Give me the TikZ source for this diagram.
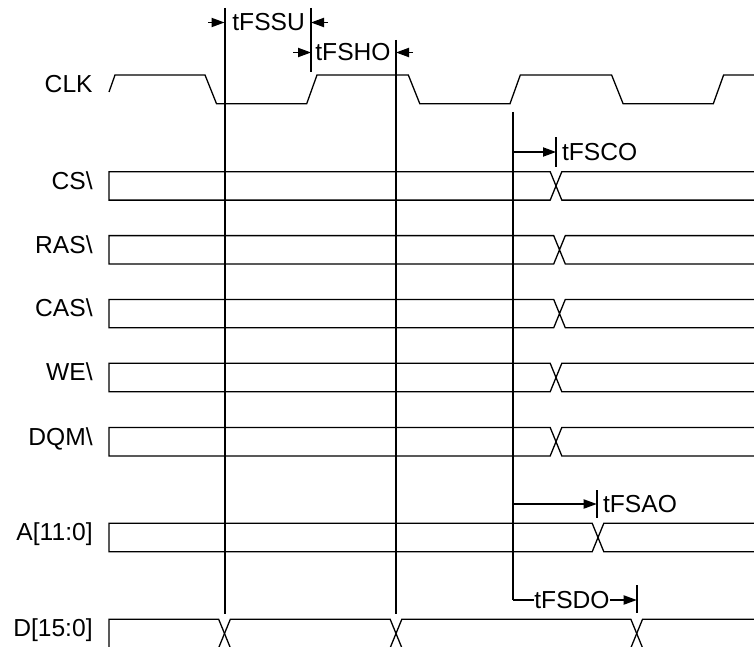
\documentclass[tikz,border=0pt]{standalone}
\usepackage{fontspec}
\setmainfont{Liberation Sans}
\usetikzlibrary{arrows.meta, positioning}
\tikzset{
x=0.5pt, y=-0.5pt, % one unit is one pixel of the sketch, y runs downwards
>={Triangle[length=6.5pt,width=4.6pt]}, % filled arrow heads
sig/.style={line width=0.65pt}, % waveforms and timing arrows
ref/.style={line width=1pt}, % reference lines and ticks
lbl/.style={inner sep=0pt, anchor=base east, font=\fontsize{12.3}{14}\selectfont}, % signal names
tim/.style={inner sep=0pt, anchor=west, font=\fontsize{12.3}{14}\selectfont}, % timing names
}
\newcommand{\hw}{5.8} % half width of a bus crossing
\newcommand{\bh}{28.4} % height of a bus
% a bus from x=109 to the right edge with one crossing: #1 top, #2 crossing
\newcommand{\busline}[2]{%
  \draw[sig] (756,#1) -- (#2+\hw,#1) -- (#2-\hw,#1+\bh) -- (109,#1+\bh) -- (109,#1)
    -- (#2-\hw,#1) -- (#2+\hw,#1+\bh) -- (756,#1+\bh);}

\begin{document}
\begin{tikzpicture}
    \useasboundingbox (0,0) rectangle (754,647);

    % signal names
    \node[lbl] (clk) at (93,92) {CLK};
    \node[lbl] (cs) at (93,189.2) {CS\textbackslash};
    \node[lbl] (ras) at (93,253.1) {RAS\textbackslash};
    \node[lbl] (cas) at (93,316.9) {CAS\textbackslash};
    \node[lbl] (we) at (93,380.8) {WE\textbackslash};
    \node[lbl] (dqm) at (93,445) {DQM\textbackslash};
    \node[lbl] (addr) at (93,540.8) {A[11:0]};
    \node[lbl] (data) at (93,636.8) {D[15:0]};

    % clock
    \draw[sig] (109,92) -- (115,75)
        foreach \k in {0,1,2} {
          -- (205+203.3*\k,75) -- (216.5+203.3*\k,103.7)
          -- (306.7+203.3*\k,103.7) -- (317+203.3*\k,75)}
        -- (756,75);

    % control and address buses
    \busline{171.7}{556}
    \busline{235.6}{559.5}
    \busline{299.4}{559.5}
    \busline{363.3}{556}
    \busline{427.5}{556}
    \busline{523.3}{598}

    % data bus
    \draw[sig] (109,647.7) -- (109,619.3) -- (224.5-\hw,619.3) -- (224.5+\hw,647.7)
        -- (396-\hw,647.7) -- (396+\hw,619.3) -- (636.7-\hw,619.3) -- (636.7+\hw,647.7) -- (756,647.7);
    \draw[sig] (109,647.7) -- (224.5-\hw,647.7) -- (224.5+\hw,619.3) -- (396-\hw,619.3)
        -- (396+\hw,647.7) -- (636.7-\hw,647.7) -- (636.7+\hw,619.3) -- (756,619.3);

    % reference lines
    \coordinate (refA) at (224.5,8);
    \coordinate (refAend) at (224.5,614);
    \coordinate (refB) at (396,40);
    \coordinate (refBend) at (396,614);
    \coordinate (refC) at (513.3,112);
    \coordinate (refCend) at (513.3,600);
    \draw[ref] (refA) -- (refAend);
    \draw[ref] (refB) -- (refBend);
    \draw[ref] (refC) -- (refCend);

    % setup and hold
    \node[tim] (tFSSU) at (232,22.5) {tFSSU};
    \node[tim] (tFSHO) at (315,52.5) {tFSHO};
    \coordinate (suTick) at (311,8);
    \coordinate (suTickEnd) at (311,72);
    \coordinate (suIn) at (208,22.5);
    \coordinate (suOut) at (328,22.5);
    \coordinate (hoIn) at (293,52.5);
    \coordinate (hoOut) at (413,52.5);
    \draw[ref] (suTick) -- (suTickEnd);
    \draw[sig,->] (suIn) -- (refA |- tFSSU.west);
    \draw[sig,->] (suOut) -- (suTick |- tFSSU.west);
    \draw[sig,->] (hoIn) -- (suTick |- tFSHO.west);
    \draw[sig,->] (hoOut) -- (refB |- tFSHO.west);

    % output delays
    \node[tim] (tFSCO) at (561.7,152) {tFSCO};
    \node[tim] (tFSAO) at (602.7,504) {tFSAO};
    \node[tim] (tFSDO) at (534,600) {tFSDO};
    \coordinate (coTick) at (556,137);
    \coordinate (coTickEnd) at (556,167);
    \coordinate (aoTick) at (596.7,490);
    \coordinate (aoTickEnd) at (596.7,518);
    \coordinate (doTick) at (636.7,585);
    \coordinate (doTickEnd) at (636.7,613);
    \draw[ref] (coTick) -- (coTickEnd);
    \draw[ref] (aoTick) -- (aoTickEnd);
    \draw[ref] (doTick) -- (doTickEnd);
    \draw[sig,->] (refC |- tFSCO.west) -- (coTick |- tFSCO.west);
    \draw[sig,->] (refC |- tFSAO.west) -- (aoTick |- tFSAO.west);
    \draw[sig] (refCend) -- (tFSDO.west);
    \draw[sig,->] (tFSDO.east) -- (doTick |- tFSDO.east);
\end{tikzpicture}
\end{document}
